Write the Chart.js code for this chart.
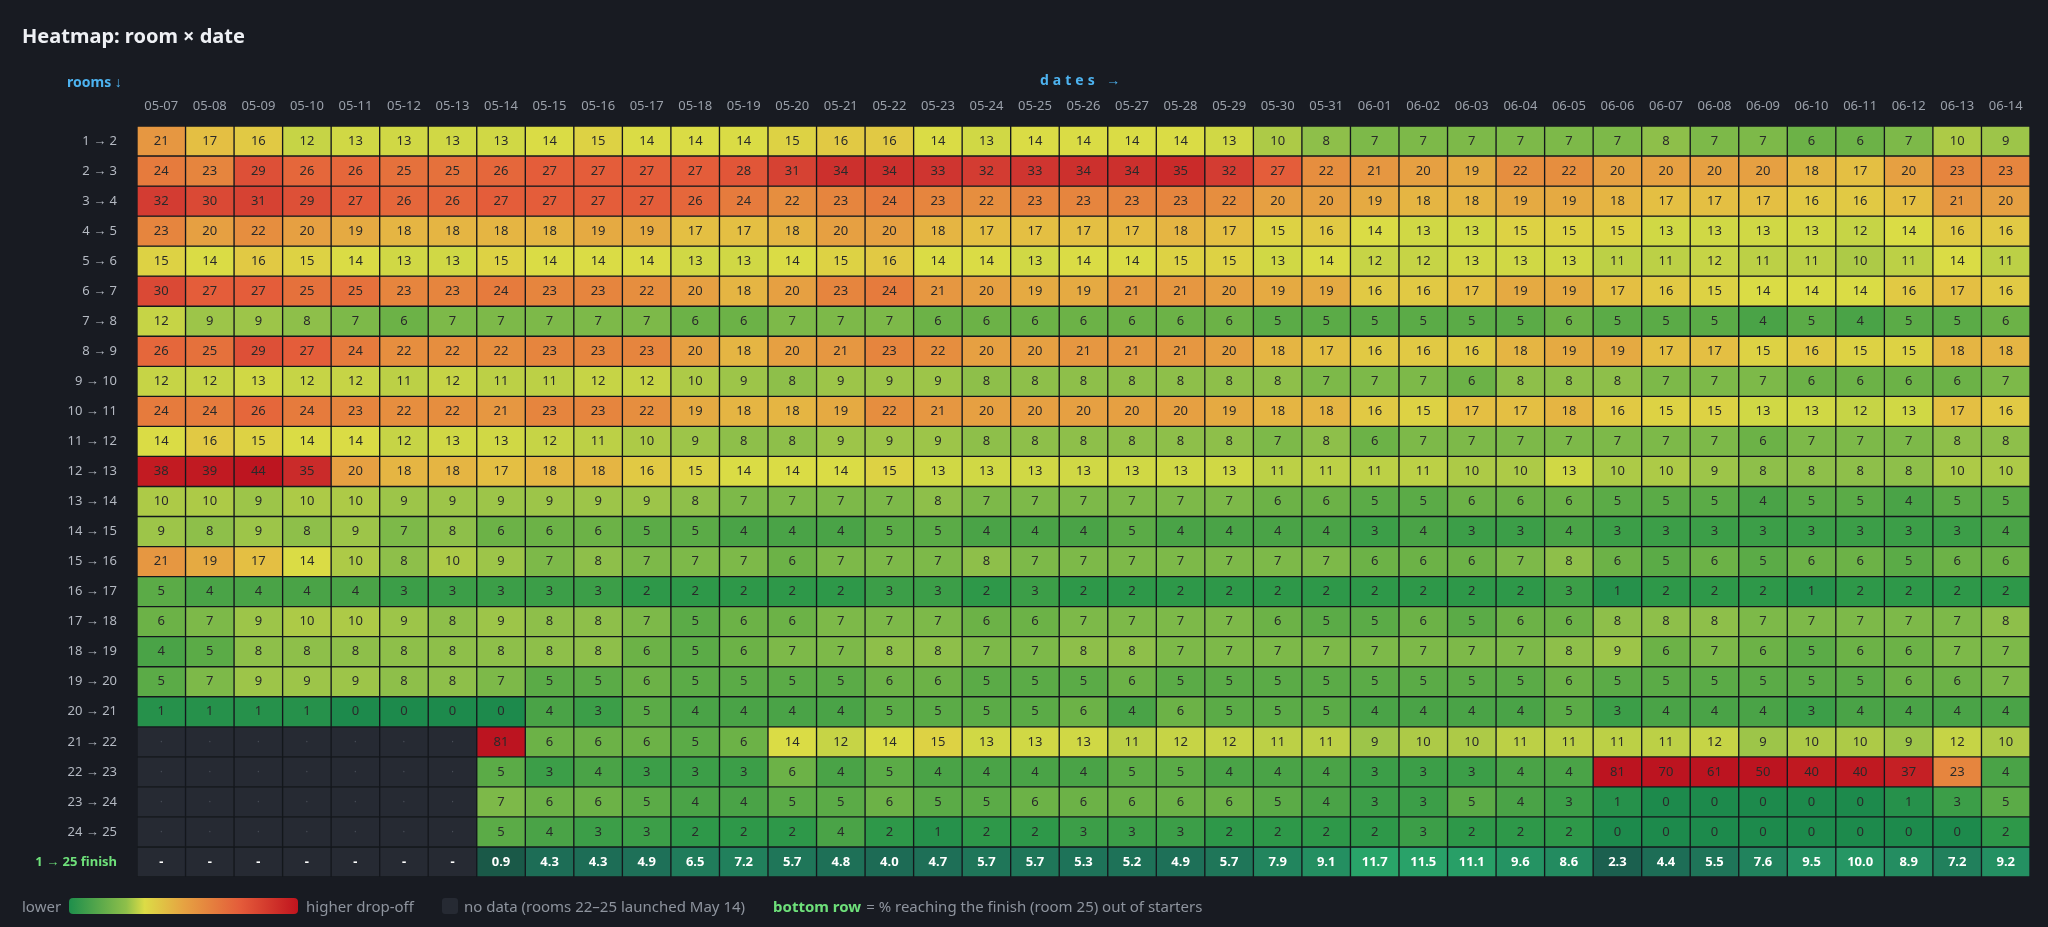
<!DOCTYPE html>
<html>
<head>
<meta charset="utf-8">
<script src="https://cdn.jsdelivr.net/npm/chart.js@4/dist/chart.umd.min.js"></script>
<style>
  body { margin:0; background:#181b22; font-family:"Noto Sans", "Open Sans", sans-serif; }
  .wrap { position:relative; width:2048px; height:927px; }
  canvas { position:absolute; left:0; top:0; }
  h1 { position:absolute; left:22px; top:22px; margin:0; font-size:20px; color:#eef0f4; font-weight:700; }
  .rooms { position:absolute; left:67px; top:72px; font-size:14px; color:#4db3f0; font-weight:700; }
  .dates { position:absolute; left:1040px; top:70px; font-size:14px; color:#4db3f0; font-weight:700; letter-spacing:4px; }
  .legend { position:absolute; left:22px; top:896px; font-size:15px; color:#8e949e; display:flex; align-items:center; white-space:nowrap; }
  .grad { width:229px; height:16px; border-radius:4px; margin:0 8px 0 8px;
    background:linear-gradient(90deg,#1e8f4c,#8ebf4a 25%,#dcdc46 33%,#e6a342 50%,#e45b3a 75%,#c0141e); }
  .sq { width:16px; height:16px; background:#262a33; border-radius:3px; margin:0 6px 0 28px; }
  .bot { color:#6ee07a; font-weight:700; margin-left:28px; margin-right:5px; }
</style>
</head>
<body>
<div class="wrap">
  <canvas id="heat" width="2048" height="927"></canvas>
  <h1>Heatmap: room × date</h1>
  <div class="rooms">rooms ↓</div>
  <div class="dates">dates →</div>
  <div class="legend">lower<div class="grad"></div>higher drop-off<div class="sq"></div>no data (rooms 22–25 launched May 14)<span class="bot">bottom row</span>= % reaching the finish (room 25) out of starters</div>
</div>
<script>
const dates = ['05-07','05-08','05-09','05-10','05-11','05-12','05-13','05-14','05-15','05-16','05-17','05-18','05-19','05-20','05-21','05-22','05-23','05-24','05-25','05-26','05-27','05-28','05-29','05-30','05-31','06-01','06-02','06-03','06-04','06-05','06-06','06-07','06-08','06-09','06-10','06-11','06-12','06-13','06-14'];
const rowLabels = ['1 → 2','2 → 3','3 → 4','4 → 5','5 → 6','6 → 7','7 → 8','8 → 9','9 → 10','10 → 11','11 → 12','12 → 13','13 → 14','14 → 15','15 → 16','16 → 17','17 → 18','18 → 19','19 → 20','20 → 21','21 → 22','22 → 23','23 → 24','24 → 25','1 → 25 finish'];

// drop-off % per room transition, one array per row
const r1_2   = [21,17,16,12,13,13,13,13,14,15,14,14,14,15,16,16,14,13,14,14,14,14,13,10,8,7,7,7,7,7,7,8,7,7,6,6,7,10,9];
const r2_3   = [24,23,29,26,26,25,25,26,27,27,27,27,28,31,34,34,33,32,33,34,34,35,32,27,22,21,20,19,22,22,20,20,20,20,18,17,20,23,23];
const r3_4   = [32,30,31,29,27,26,26,27,27,27,27,26,24,22,23,24,23,22,23,23,23,23,22,20,20,19,18,18,19,19,18,17,17,17,16,16,17,21,20];
const r4_5   = [23,20,22,20,19,18,18,18,18,19,19,17,17,18,20,20,18,17,17,17,17,18,17,15,16,14,13,13,15,15,15,13,13,13,13,12,14,16,16];
const r5_6   = [15,14,16,15,14,13,13,15,14,14,14,13,13,14,15,16,14,14,13,14,14,15,15,13,14,12,12,13,13,13,11,11,12,11,11,10,11,14,11];
const r6_7   = [30,27,27,25,25,23,23,24,23,23,22,20,18,20,23,24,21,20,19,19,21,21,20,19,19,16,16,17,19,19,17,16,15,14,14,14,16,17,16];
const r7_8   = [12,9,9,8,7,6,7,7,7,7,7,6,6,7,7,7,6,6,6,6,6,6,6,5,5,5,5,5,5,6,5,5,5,4,5,4,5,5,6];
const r8_9   = [26,25,29,27,24,22,22,22,23,23,23,20,18,20,21,23,22,20,20,21,21,21,20,18,17,16,16,16,18,19,19,17,17,15,16,15,15,18,18];
const r9_10  = [12,12,13,12,12,11,12,11,11,12,12,10,9,8,9,9,9,8,8,8,8,8,8,8,7,7,7,6,8,8,8,7,7,7,6,6,6,6,7];
const r10_11 = [24,24,26,24,23,22,22,21,23,23,22,19,18,18,19,22,21,20,20,20,20,20,19,18,18,16,15,17,17,18,16,15,15,13,13,12,13,17,16];
const r11_12 = [14,16,15,14,14,12,13,13,12,11,10,9,8,8,9,9,9,8,8,8,8,8,8,7,8,6,7,7,7,7,7,7,7,6,7,7,7,8,8];
const r12_13 = [38,39,44,35,20,18,18,17,18,18,16,15,14,14,14,15,13,13,13,13,13,13,13,11,11,11,11,10,10,13,10,10,9,8,8,8,8,10,10];
const r13_14 = [10,10,9,10,10,9,9,9,9,9,9,8,7,7,7,7,8,7,7,7,7,7,7,6,6,5,5,6,6,6,5,5,5,4,5,5,4,5,5];
const r14_15 = [9,8,9,8,9,7,8,6,6,6,5,5,4,4,4,5,5,4,4,4,5,4,4,4,4,3,4,3,3,4,3,3,3,3,3,3,3,3,4];
const r15_16 = [21,19,17,14,10,8,10,9,7,8,7,7,7,6,7,7,7,8,7,7,7,7,7,7,7,6,6,6,7,8,6,5,6,5,6,6,5,6,6];
const r16_17 = [5,4,4,4,4,3,3,3,3,3,2,2,2,2,2,3,3,2,3,2,2,2,2,2,2,2,2,2,2,3,1,2,2,2,1,2,2,2,2];
const r17_18 = [6,7,9,10,10,9,8,9,8,8,7,5,6,6,7,7,7,6,6,7,7,7,7,6,5,5,6,5,6,6,8,8,8,7,7,7,7,7,8];
const r18_19 = [4,5,8,8,8,8,8,8,8,8,6,5,6,7,7,8,8,7,7,8,8,7,7,7,7,7,7,7,7,8,9,6,7,6,5,6,6,7,7];
const r19_20 = [5,7,9,9,9,8,8,7,5,5,6,5,5,5,5,6,6,5,5,5,6,5,5,5,5,5,5,5,5,6,5,5,5,5,5,5,6,6,7];
const r20_21 = [1,1,1,1,0,0,0,0,4,3,5,4,4,4,4,5,5,5,5,6,4,6,5,5,5,4,4,4,4,5,3,4,4,4,3,4,4,4,4];
const r21_22 = [null,null,null,null,null,null,null,81,6,6,6,5,6,14,12,14,15,13,13,13,11,12,12,11,11,9,10,10,11,11,11,11,12,9,10,10,9,12,10];
const r22_23 = [null,null,null,null,null,null,null,5,3,4,3,3,3,6,4,5,4,4,4,4,5,5,4,4,4,3,3,3,4,4,81,70,61,50,40,40,37,23,4];
const r23_24 = [null,null,null,null,null,null,null,7,6,6,5,4,4,5,5,6,5,5,6,6,6,6,6,5,4,3,3,5,4,3,1,0,0,0,0,0,1,3,5];
const r24_25 = [null,null,null,null,null,null,null,5,4,3,3,2,2,2,4,2,1,2,2,3,3,3,2,2,2,2,3,2,2,2,0,0,0,0,0,0,0,0,2];
// % of starters reaching room 25
const finish = [null,null,null,null,null,null,null,0.9,4.3,4.3,4.9,6.5,7.2,5.7,4.8,4.0,4.7,5.7,5.7,5.3,5.2,4.9,5.7,7.9,9.1,11.7,11.5,11.1,9.6,8.6,2.3,4.4,5.5,7.6,9.5,10.0,8.9,7.2,9.2];

const rows = [r1_2,r2_3,r3_4,r4_5,r5_6,r6_7,r7_8,r8_9,r9_10,r10_11,r11_12,r12_13,r13_14,r14_15,r15_16,r16_17,r17_18,r18_19,r19_20,r20_21,r21_22,r22_23,r23_24,r24_25,finish];

// colour scales
function hex(c){ return [parseInt(c.slice(1,3),16),parseInt(c.slice(3,5),16),parseInt(c.slice(5,7),16)]; }
function scaleColor(stops, v){
  if (v <= stops[0][0]) return stops[0][1];
  for (let k = 1; k < stops.length; k++) {
    if (v <= stops[k][0]) {
      const a = stops[k-1], b = stops[k], t = (v - a[0]) / (b[0] - a[0]);
      const ca = hex(a[1]), cb = hex(b[1]);
      return 'rgb(' + ca.map((x,i)=>Math.round(x + (cb[i]-x)*t)).join(',') + ')';
    }
  }
  return stops[stops.length-1][1];
}
const dropStops = [[0,'#1d8a4c'],[2,'#2e9849'],[4,'#4aa347'],[6,'#6cb247'],[8,'#8ebf4a'],[11,'#bcd046'],[14,'#dadc45'],[17,'#e4bf43'],[20,'#e6a042'],[23,'#e6853e'],[27,'#e45d3a'],[33,'#cf3530'],[38,'#c21b22'],[45,'#bc1420']];
const finishStops = [[0,'#195544'],[2.5,'#1b6150'],[5,'#1e7158'],[8,'#22865e'],[12,'#2aa66a']];
const NODATA = '#262a33';

const datasets = rows.map((row, i) => ({
  data: dates.map(() => [i, i + 1]),
  backgroundColor: row.map(v => v === null ? NODATA : (i === 24 ? scaleColor(finishStops, v) : scaleColor(dropStops, v))),
  borderColor: '#15181d',
  borderWidth: 1,
  borderSkipped: false,
  grouped: false,
  barPercentage: 1,
  categoryPercentage: 1
}));

const cellText = {
  id: 'cellText',
  afterDatasetsDraw(chart) {
    const ctx = chart.ctx;
    ctx.save();
    ctx.textAlign = 'center';
    ctx.textBaseline = 'middle';
    chart.data.datasets.forEach((ds, i) => {
      chart.getDatasetMeta(i).data.forEach((el, j) => {
        const v = rows[i][j];
        const cy = (el.y + el.base) / 2;
        if (i === 24) {
          ctx.font = 'bold 13px "Noto Sans", sans-serif';
          ctx.fillStyle = '#ffffff';
          ctx.fillText(v === null ? '-' : v.toFixed(1), el.x, cy);
        } else if (v === null) {
          ctx.font = '10px "Noto Sans", sans-serif';
          ctx.fillStyle = '#4a4f59';
          ctx.fillText('·', el.x, cy);
        } else {
          ctx.font = '13px "Noto Sans", sans-serif';
          ctx.fillStyle = '#2a2a2a';
          ctx.fillText(String(v), el.x, cy);
        }
      });
    });
    ctx.restore();
  }
};

new Chart(document.getElementById('heat'), {
  type: 'bar',
  data: { labels: dates, datasets: datasets },
  options: {
    responsive: false,
    animation: false,
    layout: { padding: { top: 90, right: 18, bottom: 50, left: 0 } },
    plugins: { legend: { display: false }, tooltip: { enabled: false } },
    scales: {
      x: {
        position: 'top',
        grid: { display: false },
        border: { display: false },
        ticks: { color: '#9aa0aa', font: { size: 13, family: '"Noto Sans", sans-serif' }, maxRotation: 0, autoSkip: false, padding: 4 },
        afterFit(s) { s.height = 36; }
      },
      y: {
        type: 'linear',
        min: 0,
        max: 25,
        reverse: true,
        grid: { display: false },
        border: { display: false },
        afterBuildTicks(s) { s.ticks = rowLabels.map((_, i) => ({ value: i + 0.5 })); },
        afterFit(s) { s.width = 137; },
        ticks: {
          padding: 12,
          autoSkip: false,
          color: c => c.index === 24 ? '#6ee07a' : '#b4b9c2',
          font: c => ({ size: 13, weight: c.index === 24 ? 'bold' : 'normal', family: '"Noto Sans", sans-serif' }),
          callback: (v, idx) => rowLabels[idx]
        }
      }
    }
  },
  plugins: [cellText]
});
</script>
</body>
</html>
